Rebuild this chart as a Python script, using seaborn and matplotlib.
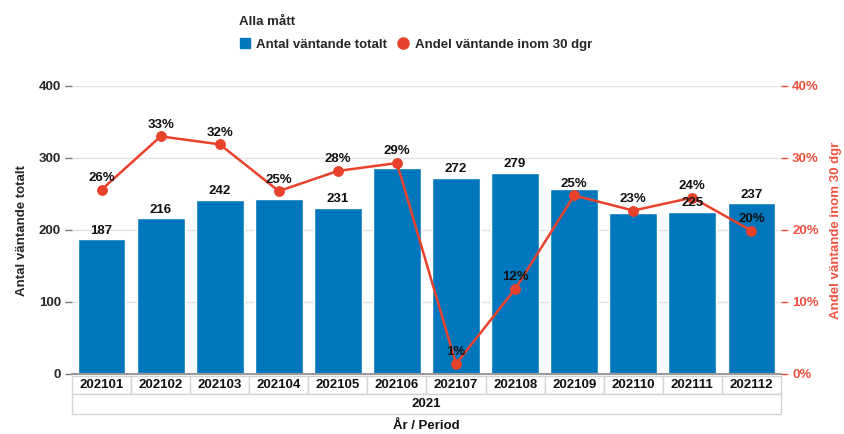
import numpy as np
import pandas as pd
import matplotlib
matplotlib.use("Agg")
import matplotlib.pyplot as plt
import matplotlib.transforms as mtransforms
from matplotlib.lines import Line2D
from matplotlib.patches import Rectangle
import seaborn as sns

# ========== DATA ==========
perioder = ["202101", "202102", "202103", "202104", "202105", "202106",
            "202107", "202108", "202109", "202110", "202111", "202112"]
antal = [187, 216, 242, 243, 231, 286, 272, 279, 257, 224, 225, 237]
andel = [25.6, 33.0, 31.9, 25.4, 28.2, 29.3, 1.4, 11.8, 24.8, 22.7, 24.5, 19.9]
ar = "2021"

BLUE = "#0077bd"
RED = "#e8412c"
RED_TXT = "#ef5340"
GRID = "#e3e3e3"

sns.set_theme(style="white")
plt.rcParams["font.family"] = ["Liberation Sans Narrow", "Liberation Sans", "DejaVu Sans"]
plt.rcParams["font.weight"] = "bold"

df = pd.DataFrame({"period": perioder, "antal": antal, "andel": andel})

fig = plt.figure(figsize=(8.45, 4.34), dpi=100)
ax = fig.add_axes([72 / 845, 60 / 434, 709 / 845, 288 / 434])

sns.barplot(data=df, x="period", y="antal", color=BLUE, saturation=1,
            width=0.81, ax=ax, zorder=2)
ax.set_xlim(-0.5, 11.5)
ax.set_ylim(0, 400)
ax.set_yticks([0, 100, 200, 300, 400])
ax.yaxis.grid(True, color=GRID, lw=1, zorder=0)
ax.set_axisbelow(True)
for s in ["top", "right", "left"]:
    ax.spines[s].set_visible(False)
ax.spines["bottom"].set_color("#999999")
ax.spines["bottom"].set_linewidth(1.5)
ax.tick_params(axis="y", left=True, length=5, width=1, color="#777777",
               labelsize=9.5, pad=3)
ax.tick_params(axis="x", bottom=False, labelbottom=False)
ax.set_xlabel("")
ax.set_ylabel("Antal väntande totalt", fontsize=9.5, fontweight="bold", labelpad=8)

# ========== LINE ==========
ax2 = ax.twinx()
x = np.arange(len(perioder))
sns.lineplot(x=x, y=andel, ax=ax2, color=RED, lw=1.8, marker="o",
             markersize=7, markeredgecolor=RED, zorder=3)
ax2.set_ylim(0, 40)
ax2.set_yticks([0, 10, 20, 30, 40])
ax2.set_yticklabels([f"{t}%" for t in [0, 10, 20, 30, 40]])
for s in ["top", "right", "left", "bottom"]:
    ax2.spines[s].set_visible(False)
ax2.tick_params(axis="y", right=True, length=5, width=1, color=RED_TXT,
                labelcolor=RED_TXT, labelsize=9.5, pad=3)
ax2.set_ylabel("Andel väntande inom 30 dgr", color=RED_TXT, fontsize=9.5,
               fontweight="bold", labelpad=8)

# ========== LABELS (drawn on top of the line) ==========
for i, (b, p) in enumerate(zip(antal, andel)):
    if abs(p * 10 - b) >= 15:
        ax2.annotate(f"{b}", (i, b), xycoords=ax.transData, xytext=(0, 2),
                     textcoords="offset points", ha="center", va="bottom",
                     fontsize=9.5, fontweight="bold", color="#111111", zorder=5)
    ax2.annotate(f"{p:.0f}%", (i, p), xytext=(0, 4), textcoords="offset points",
                 ha="center", va="bottom", fontsize=9.5, fontweight="bold",
                 color="#111111", zorder=5)

# ========== CATEGORY TABLE ==========
trans = mtransforms.blended_transform_factory(ax.transData, ax.transAxes)
r1_top, r1_bot = -2 / 288, -20 / 288
r2_bot = -40 / 288
for i, p in enumerate(perioder):
    ax.add_patch(Rectangle((i - 0.5, r1_bot), 1, r1_top - r1_bot, transform=trans,
                           facecolor="white", edgecolor="#d4d4d4", lw=1, clip_on=False))
    ax.text(i, (r1_top + r1_bot) / 2, p, transform=trans, ha="center", va="center",
            fontsize=9.5, fontweight="bold", color="#111111")
ax.add_patch(Rectangle((-0.5, r2_bot), 12, r1_bot - r2_bot, transform=trans,
                       facecolor="white", edgecolor="#d4d4d4", lw=1, clip_on=False))
ax.text(5.5, (r1_bot + r2_bot) / 2, ar, transform=trans, ha="center", va="center",
        fontsize=9.5, fontweight="bold", color="#111111")
ax.text(5.5, -52 / 288, "År / Period", transform=trans, ha="center", va="center",
        fontsize=9.5, fontweight="bold", color="#111111")

# ========== LEGEND ==========
handles = [
    Line2D([], [], marker="s", ls="", color=BLUE, markersize=7),
    Line2D([], [], marker="o", ls="", color=RED, markersize=8),
]
leg = fig.legend(handles, ["Antal väntande totalt", "Andel väntande inom 30 dgr"],
                 title="Alla mått", loc="upper left", bbox_to_anchor=(234 / 845, 1 - 11 / 434),
                 ncol=2, frameon=False, fontsize=9.5, title_fontsize=9.5,
                 alignment="left", handletextpad=0.5, columnspacing=0.8,
                 handlelength=0.8, borderaxespad=0, labelspacing=0.8)
leg.get_title().set_fontweight("bold")
for t in leg.get_texts():
    t.set_fontweight("bold")

fig.savefig("out.png", dpi=100)
